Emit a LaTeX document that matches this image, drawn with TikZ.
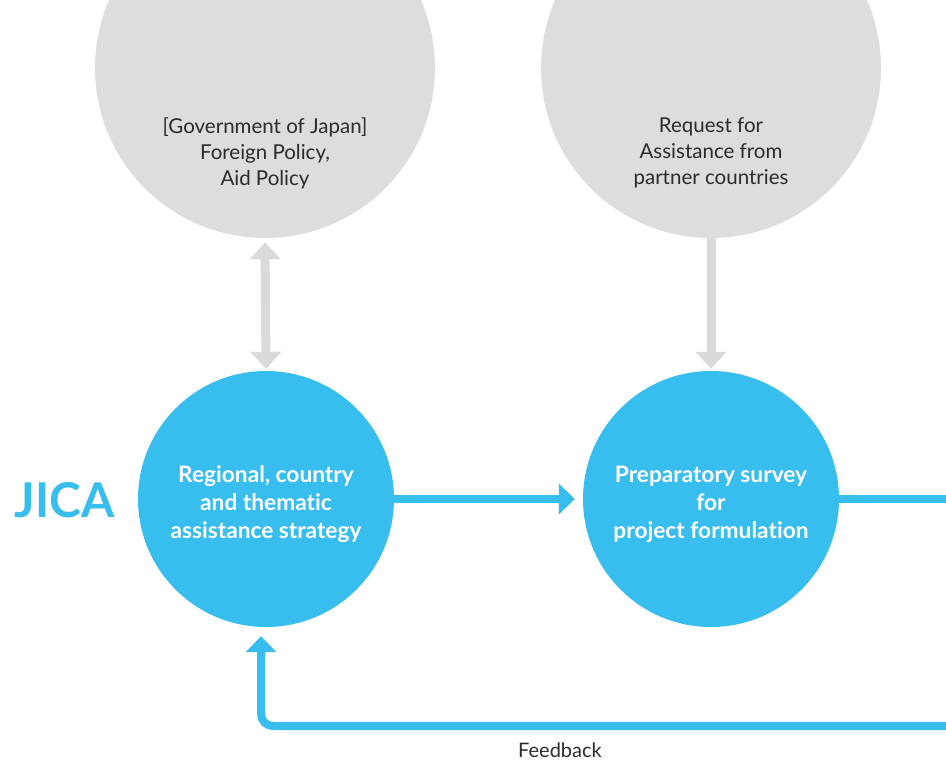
\documentclass[tikz,border=0pt]{standalone}
\usepackage{fontspec}
\setmainfont{Lato}[Ligatures={NoCommon}]
\usetikzlibrary{arrows.meta,positioning,calc}
\definecolor{cgray}{HTML}{DCDDDD}
\definecolor{agray}{HTML}{DADADA}
\definecolor{jblue}{HTML}{38BDEF}
\definecolor{tdark}{HTML}{2B2B2B}
\tikzset{
  graycirc/.style={circle, fill=cgray, minimum size=340pt, inner sep=0pt},
  bluecirc/.style={circle, fill=jblue, minimum size=256pt, inner sep=0pt, text=white,
     font=\fontsize{22.7}{28}\selectfont\bfseries, align=center},
  graytext/.style={text=tdark, font=\fontsize{20.5}{26}\selectfont, align=center},
  grayarrow/.style={draw=agray, line width=9pt, -{Triangle[width=30pt,length=17pt]}},
  grayarrow2/.style={draw=agray, line width=9pt, {Triangle[width=30pt,length=17pt]}-{Triangle[width=30pt,length=17pt]}},
  bluearrow/.style={draw=jblue, line width=8pt, -{Triangle[width=30pt,length=16pt]}},
  blueline/.style={draw=jblue, line width=8pt},
}
\begin{document}
\begin{tikzpicture}[x=1pt,y=-1pt]
\useasboundingbox (0,0) rectangle (946,764);
\clip (0,0) rectangle (946,764);
\node[graycirc] (gov) at (265,68) {};
\node[graycirc] (req) at (711,68) {};
\node[graytext] (govt) at (265,153) {[Government of Japan]\\Foreign Policy,\\Aid Policy};
\node[graytext] (reqt) at (711,153) {Request for\\Assistance from\\partner countries};
\node[bluecirc] (strat) at (266,499) {};
\node[bluecirc] (prep) at (711,499) {};
\node[text=white, font=\fontsize{22.7}{28}\selectfont\bfseries, align=center] (stratt) at (266,504) {Regional, country\\and thematic\\assistance strategy};
\node[text=white, font=\fontsize{22.7}{28}\selectfont\bfseries, align=center] (prept) at (711,504) {Preparatory survey\\for\\project formulation};
\node[text=jblue, font=\fontsize{48}{48}\selectfont\bfseries, anchor=west] (jica) at (11,500) {JICA};
\node[text=tdark, font=\fontsize{20}{24}\selectfont] (fb) at (560,750) {Feedback};
\coordinate (rend) at (946,499);
\coordinate (fbr) at (946,726);
\draw[grayarrow2, shorten <=4pt, shorten >=2pt] (gov.south) -- (strat.north);
\draw[grayarrow, shorten >=2pt] (req.south) -- (prep.north);
\draw[bluearrow, shorten >=8pt] (strat.east) -- (prep.west);
\draw[blueline] (prep.east) -- (rend);
\draw[bluearrow, rounded corners=12pt, shorten >=9pt] (fbr) -| ([xshift=-5pt]strat.south);
\end{tikzpicture}
\end{document}
